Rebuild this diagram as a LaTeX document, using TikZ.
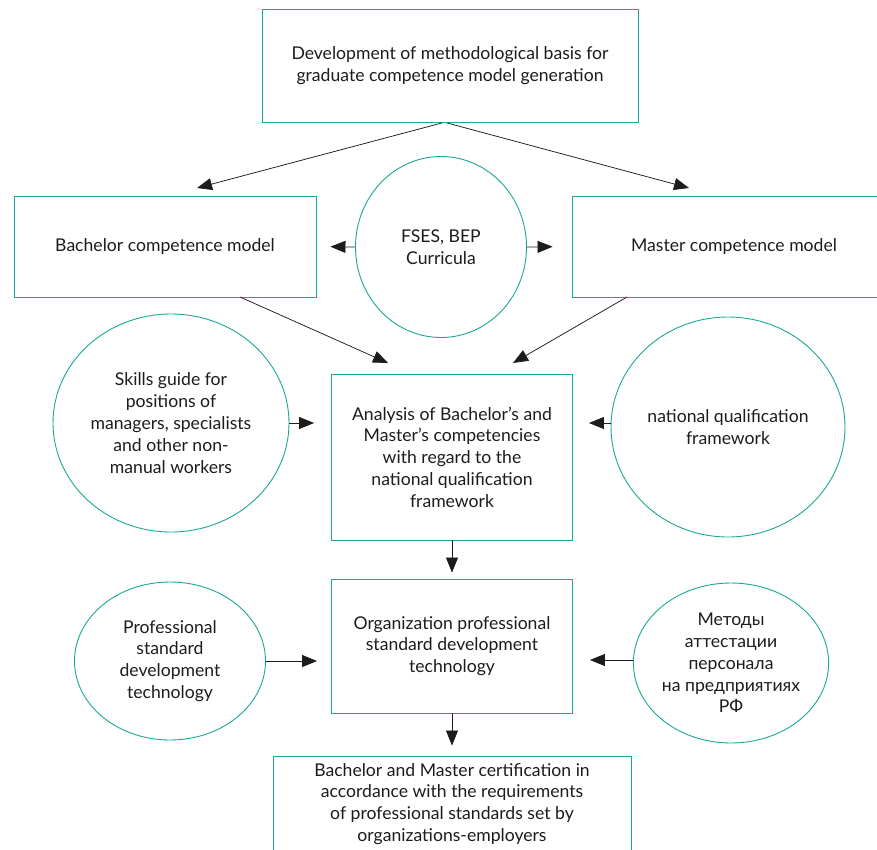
\documentclass[tikz,border=0pt]{standalone}
\usepackage{fontspec}
\setmainfont{Lato}
\usepackage{tikz}
\usetikzlibrary{positioning, arrows.meta, shapes.geometric}
\definecolor{tealline}{RGB}{26,168,150}
\definecolor{inkgray}{RGB}{30,27,28}
\tikzset{
  box/.style={draw=tealline, line width=0.9pt, rectangle, align=center, inner sep=0pt, text=inkgray},
  oval/.style={draw=tealline, line width=0.9pt, ellipse, align=center, inner sep=0pt, text=inkgray},
  flow/.style={draw=inkgray, line width=0.75pt, -{Triangle[length=15pt,width=12pt]}}
}
\begin{document}
\begin{tikzpicture}[x=1pt, y=-1pt, font=\fontsize{17.6}{21.8}\selectfont]
        \useasboundingbox (0,0) rectangle (877,850);
        % top row
        \node[box, minimum width=376, minimum height=113] (method) at (450,66) {Development of methodological basis for\\graduate competence model generation};
        \node[box, minimum width=302, minimum height=101] (bach) at (165,246.5) {Bachelor competence model};
        \node[box, minimum width=324, minimum height=101] (mast) at (734,246.5) {Master competence model};
        \node[oval, minimum width=171, minimum height=181] (fses) at (441,247) {FSES, BEP\\Curricula};
        % middle row
        \node[box, minimum width=241, minimum height=166] (anal) at (452,457) {Analysis of Bachelor's and\\Master's competencies\\with regard to the\\national qualification\\framework};
        \node[oval, minimum width=236, minimum height=218] (skills) at (171,423) {Skills guide for\\positions of\\managers, specialists\\and other non-\\manual workers};
        \node[oval, minimum width=234, minimum height=220] (nqf) at (728,427) {national qualification\\framework};
        % lower row
        \node[box, minimum width=241, minimum height=134] (org) at (452,646) {Organization professional\\standard development\\technology};
        \node[oval, minimum width=191, minimum height=158] (prof) at (170,661) {Professional\\standard\\development\\technology};
        \node[oval, minimum width=191, minimum height=160] (metod) at (731,663) {Методы\\аттестации\\персонала\\на предприятиях\\РФ};
        \node[box, minimum width=358, minimum height=96] (cert) at (452,804) {Bachelor and Master certification in\\accordance with the requirements\\of professional standards set by\\organizations-employers};
        % arrow tips
        \coordinate (bachin) at (197,188);
        \coordinate (mastin) at (689,188);
        \coordinate (analinl) at (388,363);
        \coordinate (analinr) at (513,363);
        \coordinate (bachout) at (240,297);
        \coordinate (mastout) at (627,297);
        % connectors
        \draw[flow] ([xshift=-8pt]method.south) -- (bachin);
        \draw[flow] ([xshift=-3pt]method.south) -- (mastin);
        \draw[flow, shorten >=14pt] (fses.west) -- (bach.east);
        \draw[flow, shorten >=19pt] (fses.east) -- (mast.west);
        \draw[flow] (bachout) -- (analinl);
        \draw[flow] (mastout) -- (analinr);
        \draw[flow, shorten >=17pt] (skills.east) -- (anal.west |- skills.east);
        \draw[flow, shorten >=16pt] (nqf.west |- 0,423) -- (anal.east |- 0,423);
        \draw[flow, shorten >=6pt] (anal.south) -- (org.north);
        \draw[flow, shorten >=14pt] (prof.east) -- (org.west |- prof.east);
        \draw[flow, shorten >=17pt] (metod.west |- 0,660) -- (org.east |- 0,660);
        \draw[flow, shorten >=10pt] (org.south) -- (cert.north);
      \end{tikzpicture}
\end{document}
